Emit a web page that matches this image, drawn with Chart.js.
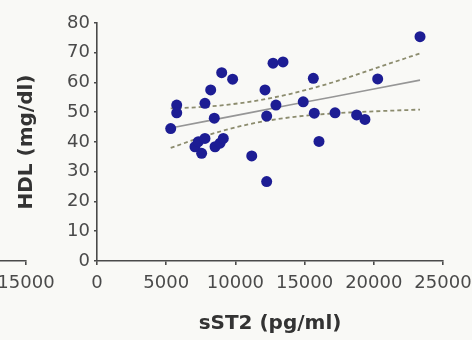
<!DOCTYPE html>
<html>
<head>
  <meta charset="UTF-8" />
  <title>HDL vs sST2</title>
  <script src="https://cdn.jsdelivr.net/npm/chart.js"></script>
  <style>
    html, body { margin: 0; padding: 0; background: #f9f9f6; overflow: hidden; }
    #wrap { position: relative; width: 472px; height: 340px; }
    #mainChart { position: absolute; left: 0; top: 0; }
    #leftChart { position: absolute; left: -134px; top: 0; }
  </style>
</head>
<body>
<div id="wrap">
  <canvas id="leftChart" width="200" height="340"></canvas>
  <canvas id="mainChart" width="472" height="340"></canvas>
</div>
<script>
  // measured values: sST2 (pg/ml) and HDL (mg/dl)
  const sst2 = [5325, 5760, 5760, 7080, 7320, 7560, 7800, 7800, 8215, 8475,
                8530, 8890, 9010, 9125, 9800, 11180, 12140, 12260, 12260, 12720,
                12930, 13440, 14900, 15630, 15700, 16040, 17200, 18760, 19360, 20280, 23340];
  const hdl = [44.5, 52.4, 49.8, 38.4, 40.1, 36.2, 53.0, 41.2, 57.5, 48.0,
               38.4, 39.6, 63.3, 41.2, 61.1, 35.3, 57.5, 48.7, 26.7, 66.5,
               52.4, 66.9, 53.5, 61.4, 49.7, 40.2, 49.8, 49.1, 47.6, 61.2, 75.4];

  // regression line and its 95% band
  const fitX = [5325, 8000, 11000, 14000, 17000, 20000, 23340];
  const fitY = [44.7, 47.1, 49.8, 52.5, 55.1, 57.8, 60.8];
  const upperY = [51.3, 51.9, 53.5, 56.2, 60.0, 64.6, 69.8];
  const lowerY = [38.0, 42.3, 46.0, 48.3, 49.6, 50.3, 50.9];

  const xTicks = [0, 5000, 10000, 15000, 20000, 25000];
  const yTicks = [0, 10, 20, 30, 40, 50, 60, 70, 80];

  const axisColor = '#4a4a4a';
  const tickFont = { family: 'DejaVu Sans, sans-serif', size: 18 };
  const titleFont = { family: 'DejaVu Sans, sans-serif', size: 20, weight: 'bold' };

  const pts = (xs, ys) => xs.map((x, i) => ({ x, y: ys[i] }));

  function axisStyle(tickLen, pad) {
    return {
      border: { display: true, color: axisColor, width: 1.6 },
      grid: { display: true, drawOnChartArea: false, drawTicks: true, tickLength: tickLen, color: axisColor, lineWidth: 1.6 },
      ticks: { color: '#4a4a4a', font: tickFont, padding: pad, autoSkip: false, maxRotation: 0, callback: v => String(v) }
    };
  }

  // fixed x-axis box; end labels may hang into the page margin
  function fitXAxis(s) {
    s.height = 75;
    s.paddingLeft = 0;
    s.paddingRight = 0;
  }

  new Chart(document.getElementById('mainChart'), {
    type: 'scatter',
    data: {
      datasets: [
        {
          data: pts(sst2, hdl),
          backgroundColor: '#1d1d94',
          borderColor: '#1d1d94',
          pointRadius: 5.5,
          borderWidth: 0
        },
        {
          type: 'line',
          data: pts(fitX, fitY),
          borderColor: '#969696',
          borderWidth: 1.6,
          pointRadius: 0,
          tension: 0
        },
        {
          type: 'line',
          data: pts(fitX, upperY),
          borderColor: '#8c8c6e',
          borderWidth: 1.8,
          borderDash: [4, 3],
          pointRadius: 0,
          cubicInterpolationMode: 'monotone'
        },
        {
          type: 'line',
          data: pts(fitX, lowerY),
          borderColor: '#8c8c6e',
          borderWidth: 1.8,
          borderDash: [4, 3],
          pointRadius: 0,
          cubicInterpolationMode: 'monotone'
        }
      ]
    },
    options: {
      responsive: false,
      animation: false,
      layout: { padding: { left: 8, right: 29, top: 23, bottom: 4 } },
      plugins: { legend: { display: false }, tooltip: { enabled: false } },
      scales: {
        x: {
          type: 'linear',
          min: 0, max: 25000,
          afterBuildTicks: s => { s.ticks = xTicks.map(v => ({ value: v })); },
          afterFit: fitXAxis,
          title: { display: true, text: 'sST2 (pg/ml)', color: '#333', font: titleFont, padding: { top: 0, bottom: 0 } },
          ...axisStyle(4, 8)
        },
        y: {
          min: 0, max: 80,
          afterBuildTicks: s => { s.ticks = yTicks.map(v => ({ value: v })); },
          afterFit: s => { s.width = 89; },
          title: { display: true, text: 'HDL (mg/dl)', color: '#333', font: titleFont, padding: { top: 7, bottom: 0 } },
          ...axisStyle(3, 4)
        }
      }
    }
  });

  // edge of the neighbouring panel's x axis
  new Chart(document.getElementById('leftChart'), {
    type: 'scatter',
    data: { datasets: [{ data: [] }] },
    options: {
      responsive: false,
      animation: false,
      layout: { padding: { left: 0, right: 40, top: 23, bottom: 4 } },
      plugins: { legend: { display: false }, tooltip: { enabled: false } },
      scales: {
        x: {
          type: 'linear', min: 0, max: 15000,
          afterBuildTicks: s => { s.ticks = [{ value: 15000 }]; },
          afterFit: fitXAxis,
          title: { display: false },
          ...axisStyle(4, 8)
        },
        y: { display: false, min: 0, max: 80 }
      }
    }
  });
</script>
</body>
</html>
